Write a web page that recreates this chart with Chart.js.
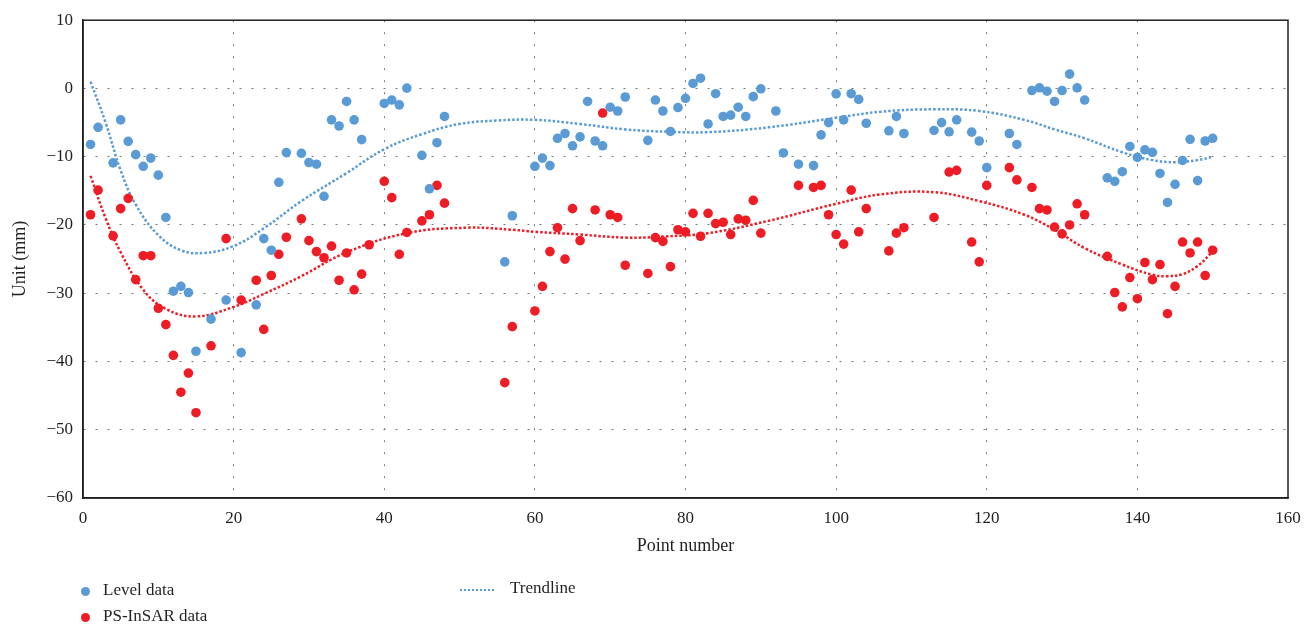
<!DOCTYPE html>
<html>
<head>
<meta charset="utf-8">
<script src="https://cdn.jsdelivr.net/npm/chart.js@4/dist/chart.umd.min.js"></script>
<style>
  html, body { margin: 0; padding: 0; background: #fff; }
  #wrap { position: relative; width: 1314px; height: 631px; }
  #chart { position: absolute; left: 0; top: 0; }
  .legend { position: absolute; font-family: "Liberation Serif", "DejaVu Serif", serif; font-size: 17px; color: #231f20; white-space: nowrap; }
  .dot { position: absolute; width: 9px; height: 9px; border-radius: 50%; }
  .dash { position: absolute; width: 34px; height: 0; border-top: 2.5px dotted #5a9bd5; }
</style>
</head>
<body>
<div id="wrap">
  <canvas id="chart" width="1314" height="631"></canvas>
  <div class="dot" style="left:81px; top:587px; background:#5a9bd5"></div>
  <div class="legend" style="left:103px; top:580px">Level data</div>
  <div class="dot" style="left:81px; top:613px; background:#ee1c25"></div>
  <div class="legend" style="left:103px; top:606px">PS-InSAR data</div>
  <div class="dash" style="left:460px; top:589px"></div>
  <div class="legend" style="left:510px; top:578px">Trendline</div>
</div>
<script>
// levelling points
const levelX = [1,2,4,5,6,7,8,9,10,11,12,13,14,15,17,19,21,23,24,25,26,27,29,30,31,32,33,34,35,36,37,40,41,42,43,45,46,47,48,56,57,60,61,62,63,64,65,66,67,68,69,70,71,72,75,76,77,78,79,80,81,82,83,84,85,86,87,88,89,90,92,93,95,97,98,99,100,101,102,103,104,107,108,109,113,114,115,116,118,119,120,123,124,126,127,128,129,130,131,132,133,136,137,138,139,140,141,142,143,144,145,146,147,148,149,150];
const levelY = [-8.2,-5.7,-10.9,-4.6,-7.75,-9.7,-11.4,-10.2,-12.7,-18.9,-29.7,-29.0,-29.9,-38.5,-33.8,-31.0,-38.7,-31.7,-22.0,-23.7,-13.75,-9.4,-9.5,-10.85,-11.1,-15.8,-4.6,-5.5,-1.9,-4.6,-7.5,-2.2,-1.7,-2.4,0.05,-9.8,-14.7,-7.95,-4.1,-25.4,-18.65,-11.4,-10.2,-11.3,-7.3,-6.6,-8.4,-7.1,-1.9,-7.7,-8.4,-2.75,-3.3,-1.25,-7.6,-1.7,-3.3,-6.3,-2.8,-1.45,0.73,1.5,-5.2,-0.77,-4.1,-3.9,-2.75,-4.1,-1.2,-0.05,-3.3,-9.45,-11.1,-11.3,-6.8,-5.0,-0.8,-4.6,-0.77,-1.6,-5.1,-6.2,-4.1,-6.6,-6.15,-5.0,-6.35,-4.6,-6.4,-7.7,-11.6,-6.6,-8.2,-0.3,0.1,-0.4,-1.9,-0.3,2.1,0.1,-1.7,-13.1,-13.6,-12.2,-8.5,-10.1,-9.0,-9.35,-12.45,-16.7,-14.05,-10.55,-7.45,-13.5,-7.7,-7.3];

// PS-InSAR points
const insarX = [1,2,4,5,6,7,8,9,10,11,12,13,14,15,17,19,21,23,24,25,26,27,29,30,31,32,33,34,35,36,37,38,40,41,42,43,45,46,47,48,56,57,60,61,62,63,64,65,66,68,69,70,71,72,75,76,77,78,79,80,81,82,83,84,85,86,87,88,89,90,95,97,98,99,100,101,102,103,104,107,108,109,113,115,116,118,119,120,123,124,126,127,128,129,130,131,132,133,136,137,138,139,140,141,142,143,144,145,146,147,148,149,150];
const insarY = [-18.5,-14.9,-21.6,-17.6,-16.1,-28.0,-24.5,-24.5,-32.2,-34.6,-39.1,-44.5,-41.7,-47.5,-37.7,-22.0,-31.0,-28.1,-35.3,-27.4,-24.3,-21.8,-19.1,-22.3,-23.9,-24.8,-23.1,-28.1,-24.1,-29.5,-27.2,-22.9,-13.6,-16.0,-24.3,-21.1,-19.4,-18.5,-14.2,-16.8,-43.1,-34.9,-32.6,-29.0,-23.9,-20.4,-25.0,-17.6,-22.3,-17.8,-3.6,-18.5,-18.9,-25.9,-27.1,-21.85,-22.4,-26.1,-20.7,-21.0,-18.3,-21.65,-18.3,-19.8,-19.6,-21.4,-19.1,-19.3,-16.4,-21.2,-14.2,-14.5,-14.2,-18.5,-21.4,-22.8,-14.9,-21.0,-17.6,-23.8,-21.2,-20.4,-18.9,-12.25,-12.0,-22.5,-25.4,-14.2,-11.6,-13.4,-14.5,-17.6,-17.8,-20.3,-21.3,-20.0,-16.9,-18.5,-24.6,-29.9,-32.0,-27.7,-30.8,-25.5,-28.0,-25.8,-33.0,-29.0,-22.5,-24.1,-22.5,-27.4,-23.7];

// trend curves
const levelTrendX = [1,3,5,7,10,13,16,20,24,29,35,40,45,50,55,60,66,72,78,83,91,100,106,113,119,125,129,133,138,142,145,148,150];
const levelTrendY = [1.0,-5.0,-12.0,-17.0,-21.5,-23.7,-24.1,-23.1,-20.5,-16.5,-12.4,-8.9,-6.7,-5.2,-4.7,-4.6,-5.2,-6.0,-6.35,-6.4,-5.7,-4.3,-3.4,-3.05,-3.3,-4.6,-6.0,-7.3,-9.35,-10.5,-10.8,-10.5,-10.0];
const insarTrendX = [1,3,5,8,11,15,20,24,29,35,43,51,57,60,66,72,77,83,91,100,106,113,119,125,129,133,138,142,144,146,148,150];
const insarTrendY = [-12.8,-19.0,-24.0,-29.5,-32.3,-33.4,-32.0,-30.1,-27.5,-24.0,-21.2,-20.4,-20.7,-21.0,-21.4,-21.85,-21.7,-21.2,-19.4,-16.9,-15.5,-15.2,-16.5,-18.5,-20.7,-23.4,-25.8,-27.3,-27.5,-27.2,-26.0,-23.9];

const blue = '#5a9bd5';
const red = '#ee1c25';
const serif = '"Liberation Serif", "DejaVu Serif", serif';

function pts(xs, ys) {
    return xs.map((x, i) => ({ x: x, y: ys[i] }));
}

// box around the plot area
const frame = {
    id: 'frame',
    afterDraw(chart) {
        const a = chart.chartArea;
        const ctx = chart.ctx;
        ctx.save();
        ctx.strokeStyle = '#231f20';
        ctx.lineWidth = 1.5;
        ctx.strokeRect(a.left, a.top, a.right - a.left, a.bottom - a.top);
        ctx.restore();
    }
};

const edgeless = (lo, hi) => ctx => (ctx.tick && (ctx.tick.value === lo || ctx.tick.value === hi)) ? 'rgba(0,0,0,0)' : '#777';

new Chart(document.getElementById('chart'), {
    type: 'scatter',
    data: {
        datasets: [
            { label: 'Level data', data: pts(levelX, levelY), backgroundColor: blue, borderWidth: 0, pointRadius: 4.8, order: 1 },
            { label: 'PS-InSAR data', data: pts(insarX, insarY), backgroundColor: red, borderWidth: 0, pointRadius: 4.8, order: 2 },
            { label: 'Trendline', data: pts(levelTrendX, levelTrendY), showLine: true, borderColor: blue, borderWidth: 2.5, borderDash: [2.5, 2], pointRadius: 0, tension: 0.4, order: 3 },
            { label: 'Trendline', data: pts(insarTrendX, insarTrendY), showLine: true, borderColor: red, borderWidth: 2.5, borderDash: [2.5, 2], pointRadius: 0, tension: 0.4, order: 4 }
        ]
    },
    options: {
        responsive: false,
        animation: false,
        layout: { padding: { left: 0, top: 17, right: 26, bottom: 63 } },
        plugins: { legend: { display: false }, tooltip: { enabled: false } },
        scales: {
            x: {
                type: 'linear', min: 0, max: 160,
                ticks: { stepSize: 20, padding: 10, color: '#231f20', font: { family: serif, size: 17 } },
                grid: { color: edgeless(0, 160), lineWidth: 1, drawTicks: false },
                border: { display: true, color: '#231f20', width: 1.5, dash: [2, 10] },
                title: { display: true, text: 'Point number', color: '#231f20', font: { family: serif, size: 18 }, padding: { top: 0, bottom: 11 } },
                afterFit(s) { s.height = 70; }
            },
            y: {
                min: -60, max: 10,
                ticks: { stepSize: 10, padding: 10, color: '#231f20', font: { family: serif, size: 17 },
                    callback: v => String(v).replace('-', '\u2212') },
                grid: { color: edgeless(-60, 10), lineWidth: 1, drawTicks: false },
                border: { display: true, color: '#231f20', width: 1.5, dash: [2, 10] },
                title: { display: true, text: 'Unit (mm)', color: '#231f20', font: { family: serif, size: 18 }, padding: { top: 9, bottom: 0 } },
                afterFit(s) { s.width = 83; }
            }
        }
    },
    plugins: [frame]
});
</script>
</body>
</html>
